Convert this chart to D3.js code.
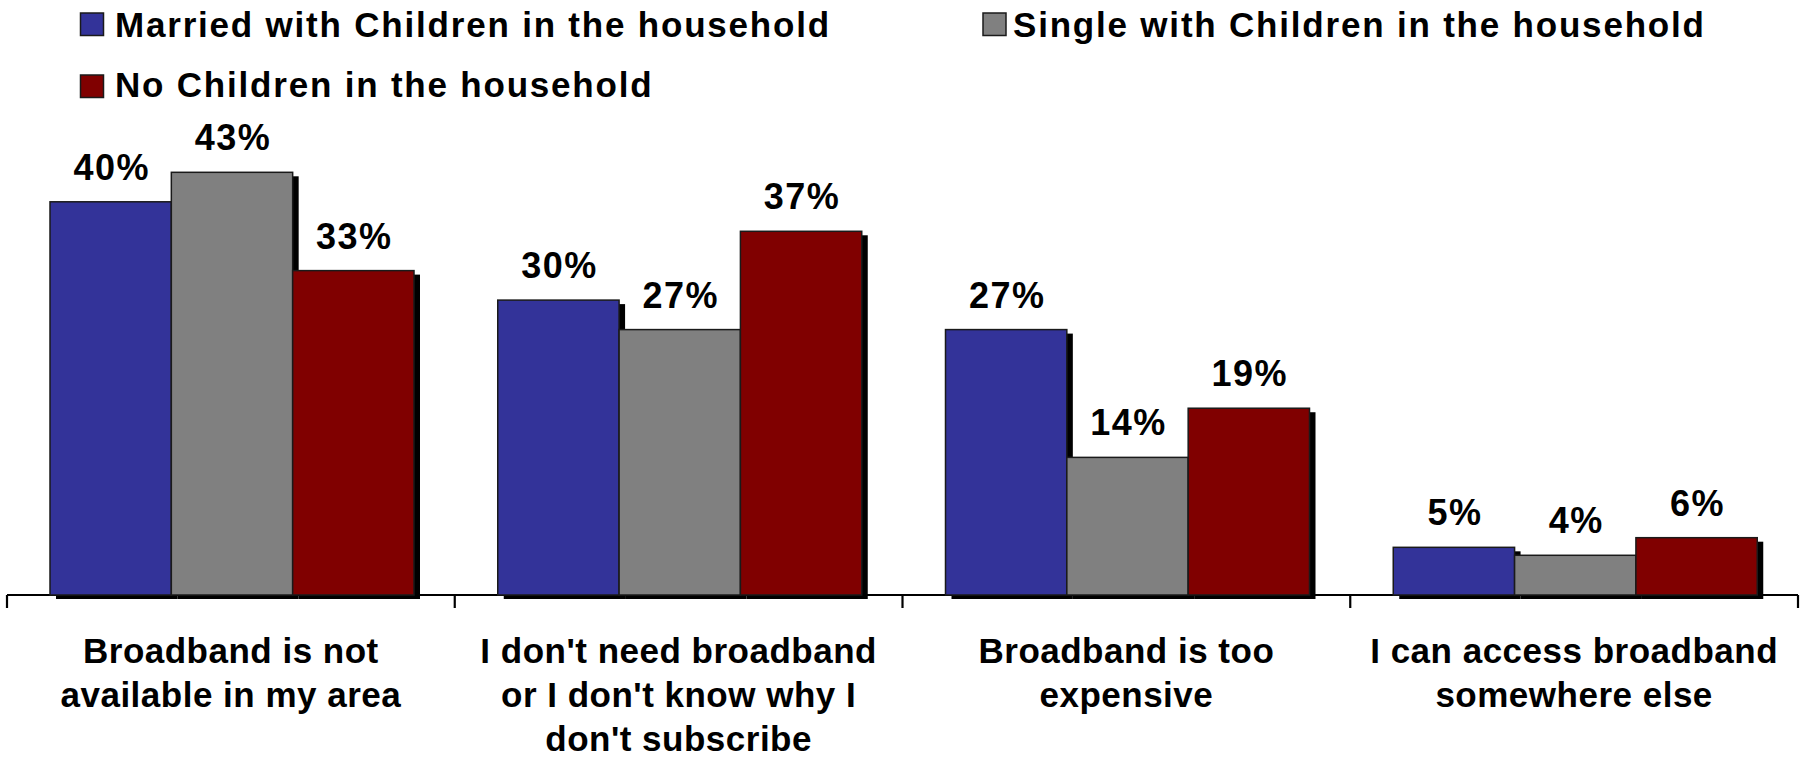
<!DOCTYPE html>
<html>
<head>
<meta charset="utf-8">
<script src="https://cdn.jsdelivr.net/npm/d3@7/dist/d3.min.js"></script>
<style>
  html, body { margin: 0; padding: 0; background: #fff; }
  svg { display: block; font-family: "Liberation Sans", Arial, Helvetica, sans-serif; font-weight: bold; }
</style>
</head>
<body>
<svg id="chart" width="1804" height="758"></svg>
<script>
// ---- data ----
const categories = [
  ["Broadband is not", "available in my area"],
  ["I don't need broadband", "or I don't know why I", "don't subscribe"],
  ["Broadband is too", "expensive"],
  ["I can access broadband", "somewhere else"]
];
const seriesNames = [
  "Married with Children in the household",
  "Single with Children in the household",
  "No Children in the household"
];
const marriedValues = [40, 30, 27, 4.85];
const singleValues  = [43, 27, 14, 4.04];
const noChildValues = [33, 37, 19, 5.83];
const seriesColors  = ["#333399", "#808080", "#800000"];

// ---- layout ----
const svg = d3.select("#chart");
const baseY = 595;
const catKeys = categories.map((c, i) => i);
const seriesValues = [marriedValues, singleValues, noChildValues];

const x0 = d3.scaleBand().domain(catKeys).range([7, 1798]).padding(0);
const x1 = d3.scaleBand().domain(d3.range(seriesNames.length)).range([43, 407]).padding(0);
const y = d3.scaleLinear().domain([0, 50]).range([baseY, baseY - 491.5]);

const fmt = v => d3.format(".0f")(v) + "%";

// axis line
svg.append("line")
  .attr("x1", x0.range()[0]).attr("x2", x0.range()[1])
  .attr("y1", baseY).attr("y2", baseY)
  .attr("stroke", "#000").attr("stroke-width", 2.2);

// tick marks at band edges
const tickXs = catKeys.map(k => x0(k)).concat([x0.range()[1]]);
svg.selectAll("line.tick").data(tickXs).enter().append("line")
  .attr("class", "tick")
  .attr("x1", d => d).attr("x2", d => d)
  .attr("y1", baseY).attr("y2", baseY + 13)
  .attr("stroke", "#000").attr("stroke-width", 2.2);

// bars
const groups = svg.selectAll("g.grp").data(catKeys).enter().append("g")
  .attr("class", "grp")
  .attr("transform", k => `translate(${x0(k)},0)`);

const barData = k => seriesValues.map((vals, s) => ({ s, v: vals[k] }));

// shadows first
groups.selectAll("rect.shadow").data(barData).enter().append("rect")
  .attr("class", "shadow")
  .attr("x", d => x1(d.s) + 6)
  .attr("y", d => y(d.v) + 4)
  .attr("width", x1.bandwidth())
  .attr("height", d => baseY - y(d.v))
  .attr("fill", "#000");

groups.selectAll("rect.bar").data(barData).enter().append("rect")
  .attr("class", "bar")
  .attr("x", d => x1(d.s))
  .attr("y", d => y(d.v))
  .attr("width", x1.bandwidth())
  .attr("height", d => baseY - y(d.v))
  .attr("fill", d => seriesColors[d.s])
  .attr("stroke", "#1a1a1a").attr("stroke-width", 1.5);

// value labels
groups.selectAll("text.val").data(barData).enter().append("text")
  .attr("class", "val")
  .attr("x", d => x1(d.s) + x1.bandwidth() / 2 + 1)
  .attr("y", d => y(d.v) - 22)
  .attr("text-anchor", "middle")
  .attr("font-size", 36)
  .attr("letter-spacing", "1.5px")
  .attr("fill", "#000")
  .text(d => fmt(d.v));

// category labels
svg.selectAll("text.cat").data(catKeys).enter().append("text")
  .attr("class", "cat")
  .attr("text-anchor", "middle")
  .attr("font-size", 35)
  .attr("letter-spacing", "0.5px")
  .attr("fill", "#000")
  .each(function(k) {
    const t = d3.select(this);
    categories[k].forEach((line, i) => {
      t.append("tspan")
        .attr("x", x0(k) + x0.bandwidth() / 2)
        .attr("y", 663 + i * 44)
        .text(line);
    });
  });

// legend
const legendPos = [
  { sx: 80.5, sy: 13, tx: 115, ty: 36.5 },
  { sx: 983, sy: 13, tx: 1013, ty: 36.5 },
  { sx: 80.5, sy: 75, tx: 115, ty: 97 }
];
const leg = svg.selectAll("g.leg").data(seriesNames).enter().append("g").attr("class", "leg");
leg.append("rect")
  .attr("x", (d, i) => legendPos[i].sx)
  .attr("y", (d, i) => legendPos[i].sy)
  .attr("width", 23).attr("height", 22.5)
  .attr("fill", (d, i) => seriesColors[i])
  .attr("stroke", "#1a1a1a").attr("stroke-width", 1.5);
leg.append("text")
  .attr("x", (d, i) => legendPos[i].tx)
  .attr("y", (d, i) => legendPos[i].ty)
  .attr("font-size", 35)
  .attr("letter-spacing", "1.8px")
  .attr("fill", "#000")
  .text(d => d);
</script>
</body>
</html>
